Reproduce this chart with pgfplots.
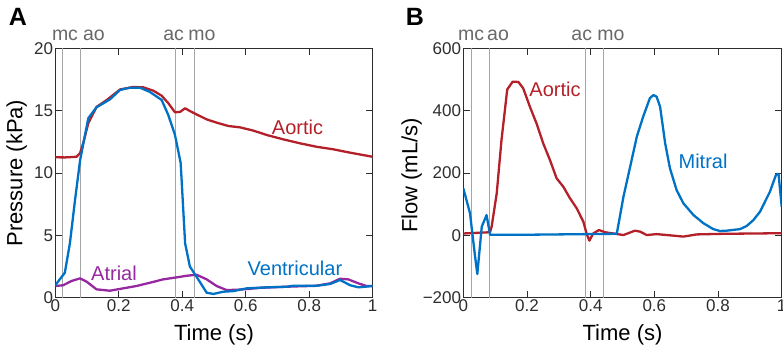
\documentclass[border=0pt]{standalone}
\usepackage{pgfplots}
\pgfplotsset{compat=1.18}
\usepackage{fontspec}
\setmainfont{Liberation Sans}
\definecolor{aor}{RGB}{180,32,42}
\definecolor{ven}{RGB}{0,114,198}
\definecolor{atr}{RGB}{150,40,160}
\definecolor{vl}{RGB}{165,165,165}
\definecolor{lg}{RGB}{105,105,105}
\definecolor{tk}{RGB}{45,45,45}
\pgfplotsset{
 mystyle/.style={
  scale only axis, height=249.4pt, anchor=south west,
  xmin=0, xmax=1, xtick={0,0.2,0.4,0.6,0.8,1},
  tick align=inside, tick pos=both, major tick length=7pt,
  axis line style={tk, line width=0.8pt}, tick style={tk, line width=0.8pt},
  /pgf/number format/assume math mode=true,
  tick label style={font=\fontsize{17}{17}\selectfont, text=tk, inner sep=2pt},
  label style={font=\fontsize{22}{22}\selectfont},
  xlabel style={at={(axis description cs:0.5,-0.15)}, anchor=center},
  every axis plot/.append style={line width=2.3pt, line join=round},
 }
}
\begin{document}
\begin{tikzpicture}
\path[use as bounding box] (0,0) rectangle (783pt,351pt);
% Panel A
\begin{axis}[mystyle, at={(55.3pt,53.3pt)}, width=317.4pt,
  ymin=0, ymax=20, ytick={0,5,10,15,20},
  xlabel={Time (s)}, ylabel={Pressure (kPa)},
  ylabel style={at={(axis description cs:-0.122,0.5)}, anchor=center}]
\addplot[vl, line width=0.9pt] coordinates {(0.023,0) (0.023,20)};
\addplot[vl, line width=0.9pt] coordinates {(0.078,0) (0.078,20)};
\addplot[vl, line width=0.9pt] coordinates {(0.38,0) (0.38,20)};
\addplot[vl, line width=0.9pt] coordinates {(0.439,0) (0.439,20)};
\addplot[aor] coordinates {(0,11.26)(0.03,11.25)(0.067,11.3)(0.078,11.6)(0.088,12.4)(0.104,14.0)(0.13,15.3)(0.162,15.85)(0.204,16.7)(0.246,16.9)(0.277,16.87)(0.309,16.6)(0.335,16.2)(0.356,15.6)(0.377,14.87)(0.393,14.9)(0.409,15.19)(0.424,14.97)(0.445,14.7)(0.477,14.3)(0.508,14.04)(0.545,13.77)(0.582,13.66)(0.624,13.4)(0.666,13.05)(0.718,12.7)(0.771,12.38)(0.824,12.1)(0.876,11.9)(0.929,11.63)(1,11.3)};
\addplot[atr] coordinates {(0,0.94)(0.025,1.0)(0.051,1.34)(0.078,1.55)(0.099,1.28)(0.13,0.67)(0.172,0.56)(0.214,0.75)(0.256,0.94)(0.298,1.2)(0.34,1.47)(0.382,1.63)(0.414,1.76)(0.445,1.84)(0.477,1.47)(0.508,0.94)(0.54,0.61)(0.582,0.65)(0.65,0.8)(0.75,0.9)(0.82,0.95)(0.866,1.15)(0.897,1.52)(0.923,1.47)(0.955,1.15)(0.98,0.94)(1,0.94)};
\addplot[ven] coordinates {(0,1.0)(0.03,2.0)(0.046,4.36)(0.062,7.8)(0.078,11.0)(0.104,14.4)(0.13,15.27)(0.172,15.9)(0.204,16.66)(0.235,16.84)(0.267,16.84)(0.298,16.5)(0.335,15.86)(0.356,14.65)(0.377,13.05)(0.395,10.8)(0.409,4.36)(0.424,2.5)(0.445,1.68)(0.477,0.4)(0.498,0.3)(0.529,0.48)(0.561,0.53)(0.603,0.75)(0.666,0.83)(0.729,0.88)(0.75,0.96)(0.824,0.96)(0.866,1.1)(0.897,1.42)(0.929,1.0)(0.955,0.83)(1,0.94)};
\node[aor, font=\fontsize{20}{20}\selectfont] at (axis cs:0.763,13.7) {Aortic};
\node[atr, font=\fontsize{20}{20}\selectfont] at (axis cs:0.185,1.96) {Atrial};
\node[ven, font=\fontsize{20}{20}\selectfont] at (axis cs:0.755,2.36) {Ventricular};
\end{axis}
% Panel B
\begin{axis}[mystyle, at={(463.3pt,53.3pt)}, width=318.4pt,
  ymin=-200, ymax=600, ytick={-200,0,200,400,600},
  yticklabels={−200,0,200,400,600},
  xlabel={Time (s)}, ylabel={Flow (mL/s)},
  ylabel style={at={(axis description cs:-0.162,0.49)}, anchor=center}]
\addplot[vl, line width=0.9pt] coordinates {(0.026,-200) (0.026,600)};
\addplot[vl, line width=0.9pt] coordinates {(0.081,-200) (0.081,600)};
\addplot[vl, line width=0.9pt] coordinates {(0.383,-200) (0.383,600)};
\addplot[vl, line width=0.9pt] coordinates {(0.441,-200) (0.441,600)};
\addplot[aor] coordinates {(0,6)(0.084,10)(0.089,28)(0.105,135)(0.12,306)(0.138,468)(0.155,493)(0.173,492)(0.188,472)(0.209,413)(0.23,359)(0.251,295)(0.272,242)(0.293,183)(0.314,156)(0.335,119)(0.356,87)(0.377,44)(0.387,6)(0.396,-17)(0.408,6)(0.426,17)(0.445,10)(0.471,6)(0.503,1)(0.539,15)(0.555,12)(0.576,1)(0.607,4)(0.65,0)(0.691,-4)(0.733,3)(0.817,5)(0.921,6)(1,7)};
\addplot[ven] coordinates {(0,151)(0.021,71)(0.037,-68)(0.044,-124)(0.058,28)(0.073,65)(0.084,2)(0.2,2)(0.482,5)(0.503,124)(0.524,220)(0.545,317)(0.565,381)(0.586,440)(0.597,450)(0.607,445)(0.618,413)(0.634,295)(0.649,215)(0.67,145)(0.691,103)(0.723,65)(0.754,39)(0.785,20)(0.806,14)(0.827,15)(0.869,20)(0.89,30)(0.911,49)(0.932,76)(0.963,140)(0.982,194)(0.99,197)(1,92)};
\node[aor, font=\fontsize{20}{20}\selectfont] at (axis cs:0.288,469) {Aortic};
\node[ven, font=\fontsize{20}{20}\selectfont] at (axis cs:0.753,236) {Mitral};
\end{axis}
% event labels
\begin{scope}[every node/.style={text=lg, font=\fontsize{19.5}{19.5}\selectfont, inner sep=0pt}]
\node at (65pt,316pt) {mc};
\node at (94pt,316pt) {ao};
\node at (173.7pt,316pt) {ac};
\node at (202pt,316pt) {mo};
\node at (471pt,316pt) {mc};
\node at (498pt,316pt) {ao};
\node at (581.7pt,316pt) {ac};
\node at (611pt,316pt) {mo};
\end{scope}
\node[font=\fontsize{25}{25}\selectfont\bfseries, inner sep=0pt] at (18pt,334.5pt) {A};
\node[font=\fontsize{25}{25}\selectfont\bfseries, inner sep=0pt] at (414.8pt,334.5pt) {B};
\end{tikzpicture}
\end{document}
